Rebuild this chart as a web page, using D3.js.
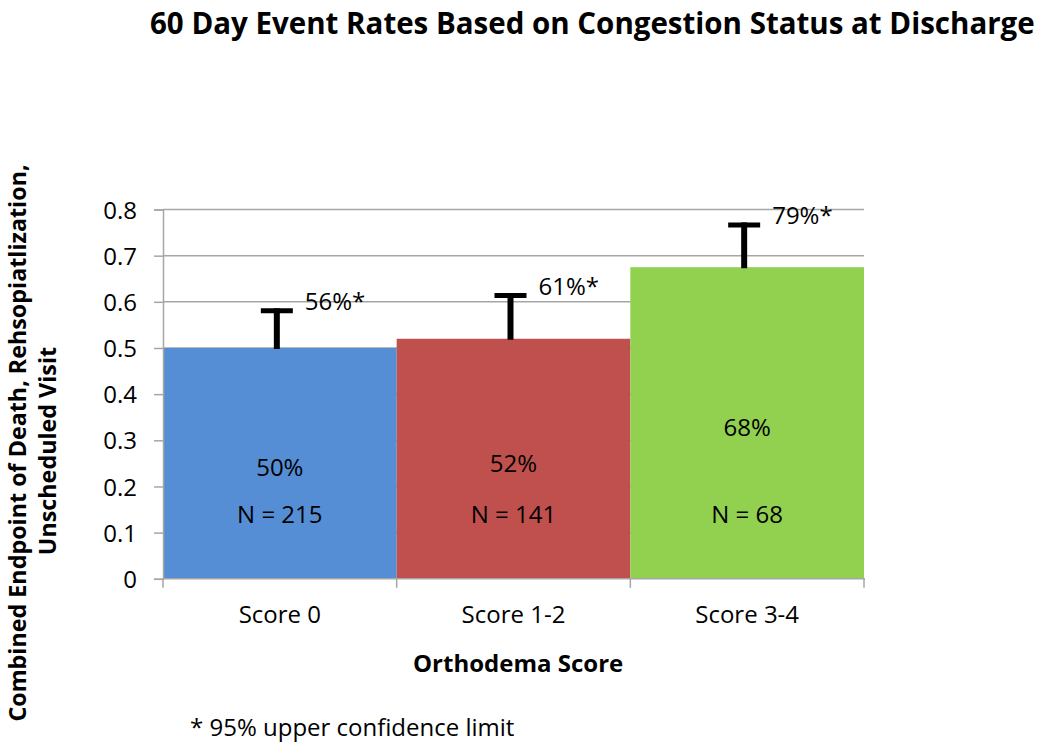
<!DOCTYPE html>
<html><head><meta charset="utf-8">
<script src="https://cdn.jsdelivr.net/npm/d3@7"></script>
<style>body{margin:0;background:#fff}text{font-family:"Open Sans",sans-serif;fill:#000}</style>
</head><body><svg id="c" width="1050" height="743"></svg>
<script>
const categories = ["Score 0", "Score 1-2", "Score 3-4"];
const rates = [0.50, 0.52, 0.675];
const rateLabels = ["50%", "52%", "68%"];
const nLabels = ["N = 215", "N = 141", "N = 68"];
const upperCI = [0.586, 0.619, 0.772];
const upperLabels = ["56%*", "61%*", "79%*"];
const yTicks = [0, 0.1, 0.2, 0.3, 0.4, 0.5, 0.6, 0.7, 0.8];
const colors = ["#558ed5", "#c0504d", "#92d050"];

const svg = d3.select("#c");
const L = 163, R = 864, T = 209.5, B = 578.8;
const FS = 24;
const x = d3.scaleBand().domain(categories).range([L, R]).padding(0);
const y = d3.scaleLinear().domain([0, 0.8]).range([B, T]);

// gridlines
svg.append("g").selectAll("line").data(yTicks.filter(d => d > 0)).join("line")
  .attr("x1", L).attr("x2", R).attr("y1", d => y(d)).attr("y2", d => y(d))
  .attr("stroke", "#a6a6a6").attr("stroke-width", 1.5);

// bars
svg.append("g").selectAll("rect").data(categories).join("rect")
  .attr("x", d => x(d)).attr("width", x.bandwidth())
  .attr("y", (d, i) => y(rates[i])).attr("height", (d, i) => B - y(rates[i]))
  .attr("fill", (d, i) => colors[i]);

// y axis
const yAxis = d3.axisLeft(y).tickValues(yTicks).tickSize(9).tickPadding(17)
  .tickFormat(d => d === 0 ? "0" : d3.format(".1f")(d));
const gy = svg.append("g").attr("transform", `translate(${L},0)`).call(yAxis);
gy.select(".domain").attr("stroke", "#a6a6a6").attr("stroke-width", 1.5);
gy.selectAll(".tick line").attr("stroke", "#a6a6a6").attr("stroke-width", 1.5);
gy.selectAll(".tick text").style("font-size", FS + "px").attr("fill", "#000").attr("dy", "0.36em");

// x axis
const xb = d3.scaleLinear().domain([0, categories.length]).range([L, R]);
const gx = svg.append("g").attr("transform", `translate(0,${B})`);
gx.append("line").attr("x1", L).attr("x2", R + 1).attr("stroke", "#a6a6a6").attr("stroke-width", 1.5);
gx.selectAll("line.t").data(d3.range(categories.length + 1)).join("line").attr("class", "t")
  .attr("x1", d => xb(d)).attr("x2", d => xb(d)).attr("y1", 0).attr("y2", 9)
  .attr("stroke", "#a6a6a6").attr("stroke-width", 1.5);
gx.selectAll("text").data(categories).join("text")
  .attr("x", d => x(d) + x.bandwidth() / 2).attr("y", 623 - B)
  .attr("text-anchor", "middle").style("font-size", FS + "px").text(d => d);

// error bars and labels
const eb = svg.append("g");
categories.forEach((c, i) => {
  const cx = x(c) + x.bandwidth() / 2 - 3;
  eb.append("line").attr("x1", cx).attr("x2", cx).attr("y1", y(rates[i]) + 1).attr("y2", y(upperCI[i]))
    .attr("stroke", "#000").attr("stroke-width", 6);
  eb.append("line").attr("x1", cx - 16).attr("x2", cx + 16).attr("y1", y(upperCI[i]) + 2.5).attr("y2", y(upperCI[i]) + 2.5)
    .attr("stroke", "#000").attr("stroke-width", 5);
  eb.append("text").attr("x", cx + 28).attr("y", y(upperCI[i]) + 2)
    .style("font-size", FS + "px").text(upperLabels[i]);
  svg.append("text").attr("x", x(c) + x.bandwidth() / 2).attr("y", (y(rates[i]) + B) / 2 + 13)
    .attr("text-anchor", "middle").style("font-size", FS + "px").text(rateLabels[i]);
  svg.append("text").attr("x", x(c) + x.bandwidth() / 2).attr("y", y(0.12))
    .attr("text-anchor", "middle").style("font-size", FS + "px").text(nLabels[i]);
});

// title fitted to its span
const title = svg.append("text").attr("x", 150).attr("y", 34)
  .style("font-size", "27px").style("font-weight", "bold")
  .text("60 Day Event Rates Based on Congestion Status at Discharge");
const tw = title.node().getComputedTextLength();
title.style("font-size", (27 * 885 / tw).toFixed(2) + "px");

svg.append("text").attr("x", 413).attr("y", 672)
  .style("font-size", FS + "px").style("font-weight", "bold").text("Orthodema Score");

const yt = svg.append("text").attr("transform", "translate(26,443) rotate(-90)").attr("text-anchor", "middle")
  .style("font-size", "23.3px").style("font-weight", "bold");
yt.append("tspan").attr("x", 0).attr("y", 0).text("Combined Endpoint of Death, Rehsopiatlization,");
yt.append("tspan").attr("x", -8).attr("y", 30).text("Unscheduled Visit");

svg.append("text").attr("x", 190).attr("y", 736).style("font-size", FS + "px").text("* 95% upper confidence limit");
</script></body></html>
